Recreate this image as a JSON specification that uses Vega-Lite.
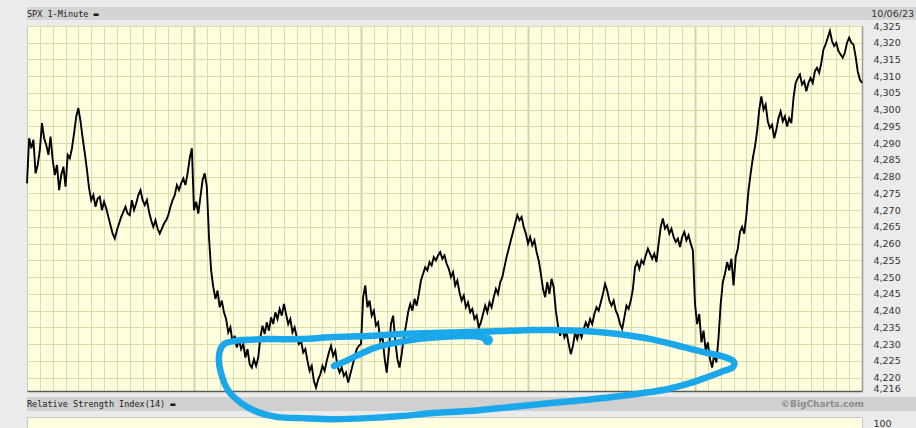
{
  "$schema": "https://vega.github.io/schema/vega-lite/v6.json",
  "background": "#ebebeb",
  "padding": {"left": 22, "top": 7, "right": 0, "bottom": 0},
  "bounds": "flush",
  "spacing": 6,
  "config": {"font": "DejaVu Sans", "view": {"stroke": null}},
  "datasets": {
    "spx": [
      {"t":0,"p":4278.0},{"t":5,"p":4291.5},{"t":10,"p":4288.5},{"t":15,"p":4291.0},{"t":20,"p":4281.0},{"t":25,"p":4283.5},{"t":30,"p":4288.0},{"t":35,"p":4296.0},{"t":40,"p":4291.5},{"t":45,"p":4289.5},{"t":50,"p":4286.5},{"t":55,"p":4292.0},{"t":60,"p":4285.0},{"t":65,"p":4280.5},{"t":70,"p":4283.5},{"t":75,"p":4276.0},{"t":80,"p":4280.5},{"t":85,"p":4283.0},{"t":90,"p":4277.0},{"t":95,"p":4286.5},{"t":100,"p":4285.5},{"t":105,"p":4288.5},{"t":110,"p":4293.0},{"t":115,"p":4298.0},{"t":120,"p":4300.5},{"t":125,"p":4296.5},{"t":130,"p":4291.5},{"t":135,"p":4287.0},{"t":140,"p":4282.0},{"t":145,"p":4276.5},{"t":150,"p":4273.0},{"t":155,"p":4274.5},{"t":160,"p":4271.0},{"t":165,"p":4273.5},{"t":170,"p":4274.0},{"t":175,"p":4270.0},{"t":180,"p":4272.5},{"t":185,"p":4270.5},{"t":190,"p":4268.0},{"t":195,"p":4265.5},{"t":200,"p":4263.0},{"t":205,"p":4261.5},{"t":210,"p":4264.0},{"t":215,"p":4266.0},{"t":220,"p":4268.0},{"t":225,"p":4269.5},{"t":230,"p":4271.0},{"t":235,"p":4269.0},{"t":240,"p":4268.5},{"t":245,"p":4273.0},{"t":250,"p":4270.0},{"t":255,"p":4272.0},{"t":260,"p":4274.5},{"t":265,"p":4276.0},{"t":270,"p":4273.0},{"t":275,"p":4271.5},{"t":280,"p":4273.0},{"t":285,"p":4269.5},{"t":290,"p":4267.0},{"t":295,"p":4265.0},{"t":300,"p":4267.0},{"t":305,"p":4264.5},{"t":310,"p":4263.0},{"t":315,"p":4264.5},{"t":320,"p":4266.0},{"t":325,"p":4267.0},{"t":330,"p":4268.5},{"t":335,"p":4271.0},{"t":340,"p":4273.0},{"t":345,"p":4274.5},{"t":350,"p":4277.5},{"t":355,"p":4276.0},{"t":360,"p":4278.0},{"t":365,"p":4279.5},{"t":370,"p":4277.5},{"t":375,"p":4281.0},{"t":380,"p":4285.5},{"t":385,"p":4288.5},
      {"t":390,"p":4270.0},{"t":395,"p":4272.5},{"t":400,"p":4269.0},{"t":405,"p":4274.0},{"t":410,"p":4279.0},{"t":415,"p":4281.0},{"t":420,"p":4277.0},{"t":425,"p":4262.0},{"t":430,"p":4252.0},{"t":435,"p":4247.0},{"t":440,"p":4243.5},{"t":445,"p":4246.0},{"t":450,"p":4241.0},{"t":455,"p":4243.0},{"t":460,"p":4239.5},{"t":465,"p":4237.5},{"t":470,"p":4233.5},{"t":475,"p":4235.0},{"t":480,"p":4230.5},{"t":485,"p":4232.5},{"t":490,"p":4229.0},{"t":495,"p":4231.5},{"t":500,"p":4228.5},{"t":505,"p":4230.0},{"t":510,"p":4226.0},{"t":515,"p":4228.5},{"t":520,"p":4224.0},{"t":525,"p":4223.0},{"t":530,"p":4225.5},{"t":535,"p":4223.5},{"t":540,"p":4226.0},{"t":545,"p":4232.0},{"t":550,"p":4235.5},{"t":555,"p":4233.0},{"t":560,"p":4236.5},{"t":565,"p":4234.0},{"t":570,"p":4238.0},{"t":575,"p":4236.0},{"t":580,"p":4239.5},{"t":585,"p":4237.5},{"t":590,"p":4240.5},{"t":595,"p":4238.5},{"t":600,"p":4242.0},{"t":605,"p":4239.0},{"t":610,"p":4236.0},{"t":615,"p":4237.5},{"t":620,"p":4233.5},{"t":625,"p":4235.0},{"t":630,"p":4232.0},{"t":635,"p":4230.0},{"t":640,"p":4231.0},{"t":645,"p":4227.5},{"t":650,"p":4228.5},{"t":655,"p":4225.0},{"t":660,"p":4222.0},{"t":665,"p":4223.5},{"t":670,"p":4219.0},{"t":675,"p":4217.0},{"t":680,"p":4219.5},{"t":685,"p":4221.0},{"t":690,"p":4223.5},{"t":695,"p":4222.0},{"t":700,"p":4225.0},{"t":705,"p":4227.5},{"t":710,"p":4229.5},{"t":715,"p":4226.5},{"t":720,"p":4228.0},{"t":725,"p":4223.5},{"t":730,"p":4221.5},{"t":735,"p":4223.0},{"t":740,"p":4220.5},{"t":745,"p":4221.5},{"t":750,"p":4218.5},{"t":755,"p":4221.0},{"t":760,"p":4223.5},{"t":765,"p":4226.0},{"t":770,"p":4228.5},{"t":775,"p":4229.5},
      {"t":780,"p":4230.0},{"t":785,"p":4244.0},{"t":790,"p":4247.5},{"t":795,"p":4241.0},{"t":800,"p":4243.0},{"t":805,"p":4238.5},{"t":810,"p":4240.0},{"t":815,"p":4235.5},{"t":820,"p":4236.5},{"t":825,"p":4231.0},{"t":830,"p":4232.5},{"t":835,"p":4226.0},{"t":840,"p":4221.5},{"t":845,"p":4228.0},{"t":850,"p":4236.0},{"t":855,"p":4238.5},{"t":860,"p":4231.0},{"t":865,"p":4225.5},{"t":870,"p":4223.0},{"t":875,"p":4227.0},{"t":880,"p":4232.0},{"t":885,"p":4235.5},{"t":890,"p":4239.5},{"t":895,"p":4242.0},{"t":900,"p":4240.0},{"t":905,"p":4243.5},{"t":910,"p":4241.5},{"t":915,"p":4245.0},{"t":920,"p":4249.0},{"t":925,"p":4251.0},{"t":930,"p":4253.0},{"t":935,"p":4252.0},{"t":940,"p":4254.5},{"t":945,"p":4253.5},{"t":950,"p":4256.0},{"t":955,"p":4255.0},{"t":960,"p":4256.5},{"t":965,"p":4257.5},{"t":970,"p":4255.5},{"t":975,"p":4256.5},{"t":980,"p":4254.0},{"t":985,"p":4252.5},{"t":990,"p":4250.0},{"t":995,"p":4251.5},{"t":1000,"p":4247.5},{"t":1005,"p":4249.0},{"t":1010,"p":4245.5},{"t":1015,"p":4243.0},{"t":1020,"p":4244.5},{"t":1025,"p":4241.0},{"t":1030,"p":4242.5},{"t":1035,"p":4239.5},{"t":1040,"p":4240.5},{"t":1045,"p":4237.5},{"t":1050,"p":4238.5},{"t":1055,"p":4235.0},{"t":1060,"p":4236.5},{"t":1065,"p":4239.0},{"t":1070,"p":4241.5},{"t":1075,"p":4239.5},{"t":1080,"p":4242.5},{"t":1085,"p":4241.0},{"t":1090,"p":4244.0},{"t":1095,"p":4246.5},{"t":1100,"p":4245.0},{"t":1105,"p":4248.5},{"t":1110,"p":4250.0},{"t":1115,"p":4253.0},{"t":1120,"p":4256.0},{"t":1125,"p":4258.5},{"t":1130,"p":4261.0},{"t":1135,"p":4263.5},{"t":1140,"p":4266.0},{"t":1145,"p":4268.5},{"t":1150,"p":4267.0},{"t":1155,"p":4268.0},{"t":1160,"p":4265.0},{"t":1165,"p":4263.0},
      {"t":1170,"p":4260.0},{"t":1175,"p":4262.0},{"t":1180,"p":4259.5},{"t":1185,"p":4261.0},{"t":1190,"p":4257.5},{"t":1195,"p":4255.0},{"t":1200,"p":4251.0},{"t":1205,"p":4246.5},{"t":1210,"p":4244.0},{"t":1215,"p":4248.5},{"t":1220,"p":4245.0},{"t":1225,"p":4249.5},{"t":1230,"p":4247.0},{"t":1235,"p":4240.0},{"t":1240,"p":4235.5},{"t":1245,"p":4232.5},{"t":1250,"p":4235.0},{"t":1255,"p":4232.0},{"t":1260,"p":4233.5},{"t":1265,"p":4230.0},{"t":1270,"p":4227.0},{"t":1275,"p":4229.5},{"t":1280,"p":4233.5},{"t":1285,"p":4231.5},{"t":1290,"p":4234.0},{"t":1295,"p":4232.0},{"t":1300,"p":4234.5},{"t":1305,"p":4236.5},{"t":1310,"p":4235.0},{"t":1315,"p":4237.5},{"t":1320,"p":4236.0},{"t":1325,"p":4239.0},{"t":1330,"p":4241.0},{"t":1335,"p":4240.0},{"t":1340,"p":4242.5},{"t":1345,"p":4245.0},{"t":1350,"p":4248.0},{"t":1355,"p":4246.0},{"t":1360,"p":4243.0},{"t":1365,"p":4241.5},{"t":1370,"p":4243.0},{"t":1375,"p":4240.0},{"t":1380,"p":4238.5},{"t":1385,"p":4236.0},{"t":1390,"p":4234.5},{"t":1395,"p":4238.0},{"t":1400,"p":4241.5},{"t":1405,"p":4240.5},{"t":1410,"p":4243.0},{"t":1415,"p":4246.5},{"t":1420,"p":4253.0},{"t":1425,"p":4254.5},{"t":1430,"p":4252.5},{"t":1435,"p":4255.0},{"t":1440,"p":4254.0},{"t":1445,"p":4256.5},{"t":1450,"p":4258.5},{"t":1455,"p":4257.0},{"t":1460,"p":4255.5},{"t":1465,"p":4257.0},{"t":1470,"p":4254.5},{"t":1475,"p":4260.0},{"t":1480,"p":4265.0},{"t":1485,"p":4267.5},{"t":1490,"p":4264.5},{"t":1495,"p":4265.5},{"t":1500,"p":4263.0},{"t":1505,"p":4264.5},{"t":1510,"p":4262.0},{"t":1515,"p":4260.5},{"t":1520,"p":4261.5},{"t":1525,"p":4259.0},{"t":1530,"p":4262.0},{"t":1535,"p":4263.5},{"t":1540,"p":4261.0},{"t":1545,"p":4262.5},{"t":1550,"p":4260.0},{"t":1555,"p":4258.0},
      {"t":1560,"p":4242.0},{"t":1565,"p":4236.0},{"t":1570,"p":4239.0},{"t":1575,"p":4230.5},{"t":1580,"p":4234.0},{"t":1585,"p":4228.0},{"t":1590,"p":4230.5},{"t":1595,"p":4225.5},{"t":1600,"p":4223.0},{"t":1605,"p":4227.0},{"t":1610,"p":4224.5},{"t":1615,"p":4232.0},{"t":1620,"p":4242.0},{"t":1625,"p":4248.5},{"t":1630,"p":4251.0},{"t":1635,"p":4254.5},{"t":1640,"p":4252.0},{"t":1645,"p":4255.5},{"t":1650,"p":4247.5},{"t":1655,"p":4256.0},{"t":1660,"p":4258.5},{"t":1665,"p":4263.5},{"t":1670,"p":4265.0},{"t":1675,"p":4263.0},{"t":1680,"p":4268.5},{"t":1685,"p":4276.0},{"t":1690,"p":4281.0},{"t":1695,"p":4285.5},{"t":1700,"p":4289.0},{"t":1705,"p":4293.5},{"t":1710,"p":4300.0},{"t":1715,"p":4304.0},{"t":1720,"p":4300.0},{"t":1725,"p":4301.5},{"t":1730,"p":4296.5},{"t":1735,"p":4294.5},{"t":1740,"p":4295.5},{"t":1745,"p":4291.5},{"t":1750,"p":4294.0},{"t":1755,"p":4297.5},{"t":1760,"p":4299.5},{"t":1765,"p":4296.5},{"t":1770,"p":4298.0},{"t":1775,"p":4295.0},{"t":1780,"p":4297.5},{"t":1785,"p":4296.0},{"t":1790,"p":4303.5},{"t":1795,"p":4308.0},{"t":1800,"p":4309.5},{"t":1805,"p":4310.5},{"t":1810,"p":4307.5},{"t":1815,"p":4308.5},{"t":1820,"p":4305.5},{"t":1825,"p":4308.0},{"t":1830,"p":4309.5},{"t":1835,"p":4308.0},{"t":1840,"p":4311.5},{"t":1845,"p":4312.5},{"t":1850,"p":4311.0},{"t":1855,"p":4314.0},{"t":1860,"p":4318.0},{"t":1865,"p":4319.5},{"t":1870,"p":4321.5},{"t":1875,"p":4323.5},{"t":1880,"p":4320.5},{"t":1885,"p":4319.0},{"t":1890,"p":4320.0},{"t":1895,"p":4317.5},{"t":1900,"p":4316.5},{"t":1905,"p":4315.5},{"t":1910,"p":4317.0},{"t":1915,"p":4320.0},{"t":1920,"p":4321.5},{"t":1925,"p":4320.0},{"t":1930,"p":4319.5},{"t":1935,"p":4316.0},{"t":1940,"p":4311.5},{"t":1945,"p":4309.0},{"t":1950,"p":4308.0}
    ],
    "loop": [
      {"seg":"a","i":0,"t":717,"p":4223.5},{"seg":"a","i":1,"t":740,"p":4224.7},{"seg":"a","i":2,"t":773,"p":4226.7},{"seg":"a","i":3,"t":810,"p":4228.8},{"seg":"a","i":4,"t":857,"p":4230.3},{"seg":"a","i":5,"t":913,"p":4231.5},{"seg":"a","i":6,"t":967,"p":4232.1},{"seg":"a","i":7,"t":1020,"p":4232.4},{"seg":"a","i":8,"t":1060,"p":4232.1},{"seg":"a","i":9,"t":1076,"p":4231.2},
      {"seg":"b","i":0,"t":483,"p":4230.9},{"seg":"b","i":1,"t":500,"p":4231.2},{"seg":"b","i":2,"t":563,"p":4231.5},{"seg":"b","i":3,"t":640,"p":4231.5},{"seg":"b","i":4,"t":717,"p":4232.1},{"seg":"b","i":5,"t":796,"p":4232.4},{"seg":"b","i":6,"t":873,"p":4233.0},{"seg":"b","i":7,"t":950,"p":4233.3},{"seg":"b","i":8,"t":1030,"p":4233.6},{"seg":"b","i":9,"t":1107,"p":4233.9},{"seg":"b","i":10,"t":1184,"p":4234.2},{"seg":"b","i":11,"t":1224,"p":4234.2},{"seg":"b","i":12,"t":1301,"p":4233.9},{"seg":"b","i":13,"t":1380,"p":4233.0},{"seg":"b","i":14,"t":1457,"p":4231.5},{"seg":"b","i":15,"t":1534,"p":4229.1},{"seg":"b","i":16,"t":1590,"p":4227.3},{"seg":"b","i":17,"t":1628,"p":4226.2},{"seg":"b","i":18,"t":1651,"p":4224.7},{"seg":"b","i":19,"t":1649,"p":4223.2},{"seg":"b","i":20,"t":1621,"p":4221.7},{"seg":"b","i":21,"t":1590,"p":4220.2},{"seg":"b","i":22,"t":1550,"p":4218.4},{"seg":"b","i":23,"t":1497,"p":4216.6},{"seg":"b","i":24,"t":1387,"p":4214.5},{"seg":"b","i":25,"t":1301,"p":4213.3},{"seg":"b","i":26,"t":1224,"p":4212.4},{"seg":"b","i":27,"t":1107,"p":4210.9},{"seg":"b","i":28,"t":1030,"p":4210.0},{"seg":"b","i":29,"t":950,"p":4209.4},{"seg":"b","i":30,"t":873,"p":4208.5},{"seg":"b","i":31,"t":796,"p":4207.9},{"seg":"b","i":32,"t":717,"p":4207.6},{"seg":"b","i":33,"t":640,"p":4207.9},{"seg":"b","i":34,"t":586,"p":4208.2},{"seg":"b","i":35,"t":539,"p":4209.7},{"seg":"b","i":36,"t":500,"p":4212.4},{"seg":"b","i":37,"t":469,"p":4216.3},{"seg":"b","i":38,"t":453,"p":4221.4},{"seg":"b","i":39,"t":448,"p":4225.3},{"seg":"b","i":40,"t":451,"p":4228.2},{"seg":"b","i":41,"t":460,"p":4230.0},{"seg":"b","i":42,"t":483,"p":4230.9}
    ],
    "blob": [{"t":1076,"p":4231.2}]
  },
  "vconcat": [
    {
      "width": 890, "height": 13,
      "view": {"fill": "#d4d4d4", "stroke": null},
      "layer": [
        {
          "data": {"values": [{"s": "l", "label": "SPX 1-Minute ▬"}]},
          "mark": {"type": "text", "align": "left", "baseline": "middle", "font": "DejaVu Sans Mono", "fontSize": 8.5, "color": "#1a1a1a"},
          "encoding": {
            "x": {"field": "s", "type": "nominal", "scale": {"type": "point", "domain": ["l", "r"], "range": [0, 887], "padding": 0}, "axis": null},
            "text": {"field": "label"}
          }
        },
        {
          "data": {"values": [{"s": "r", "label": "10/06/23"}]},
          "mark": {"type": "text", "align": "right", "baseline": "middle", "font": "DejaVu Sans", "fontSize": 9.5, "color": "#333333"},
          "encoding": {
            "x": {"field": "s", "type": "nominal", "scale": {"type": "point", "domain": ["l", "r"], "range": [0, 887], "padding": 0}, "axis": null},
            "text": {"field": "label"}
          }
        }
      ]
    },
    {
      "width": 835, "height": 365,
      "view": {"fill": "#ffffdf", "stroke": "#c8c8c8"},
      "data": {"name": "spx"},
      "mark": {"type": "line", "color": "#000000", "strokeWidth": 1.9, "strokeJoin": "miter"},
      "encoding": {
        "x": {
          "field": "t", "type": "quantitative",
          "scale": {"domain": [0, 1950], "nice": false, "zero": false},
          "axis": {
            "title": null, "labels": false, "ticks": false, "domain": true, "domainColor": "#5a5a5a", "domainWidth": 1.5,
            "values": [30,60,90,120,150,180,210,240,270,300,330,360,390,420,450,480,510,540,570,600,630,660,690,720,750,780,810,840,870,900,930,960,990,1020,1050,1080,1110,1140,1170,1200,1230,1260,1290,1320,1350,1380,1410,1440,1470,1500,1530,1560,1590,1620,1650,1680,1710,1740,1770,1800,1830,1860,1890,1920],
            "grid": true,
            "gridColor": {"condition": {"test": "datum.value % 390 === 0", "value": "#d6d2a2"}, "value": "#dedaab"},
            "gridWidth": {"condition": {"test": "datum.value % 390 === 0", "value": 2}, "value": 1}
          }
        },
        "y": {
          "field": "p", "type": "quantitative",
          "scale": {"domain": [4216, 4325], "nice": false, "zero": false},
          "axis": {
            "orient": "right", "title": null,
            "values": [4216,4220,4225,4230,4235,4240,4245,4250,4255,4260,4265,4270,4275,4280,4285,4290,4295,4300,4305,4310,4315,4320,4325],
            "format": ",",
            "ticks": false, "tickSize": 0, "labelPadding": 11,
            "labelFont": "DejaVu Sans", "labelFontSize": 9.5, "labelColor": "#333333",
            "labelOffset": {"condition": {"test": "datum.value === 4216", "value": -3}, "value": 0},
            "domain": true, "domainColor": "#9a9a9a", "domainWidth": 1.5,
            "grid": true, "gridColor": "#dedaab", "gridWidth": 1
          }
        }
      }
    },
    {
      "width": 890, "height": 14,
      "view": {"fill": "#d0d0d0", "stroke": null},
      "layer": [
        {
          "data": {"values": [{"s": "l", "label": "Relative Strength Index(14) ▬"}]},
          "mark": {"type": "text", "align": "left", "baseline": "middle", "font": "DejaVu Sans Mono", "fontSize": 8.5, "color": "#1a1a1a"},
          "encoding": {
            "x": {"field": "s", "type": "nominal", "scale": {"type": "point", "domain": ["l", "r"], "range": [0, 837], "padding": 0}, "axis": null},
            "text": {"field": "label"}
          }
        },
        {
          "data": {"values": [{"s": "r", "label": "©BigCharts.com"}]},
          "mark": {"type": "text", "align": "right", "baseline": "middle", "font": "DejaVu Sans", "fontSize": 9, "fontWeight": "bold", "color": "#8d8d8d"},
          "encoding": {
            "x": {"field": "s", "type": "nominal", "scale": {"type": "point", "domain": ["l", "r"], "range": [0, 837], "padding": 0}, "axis": null},
            "text": {"field": "label"}
          }
        }
      ]
    },
    {
      "width": 835, "height": 11,
      "view": {"fill": "#ffffdf", "stroke": "#c8c8c8"},
      "layer": [
        {
          "data": {"values": [{"rsi": 100}]},
          "mark": {"type": "rule", "strokeOpacity": 0},
          "encoding": {
            "y": {
              "field": "rsi", "type": "quantitative",
              "scale": {"domain": [0, 100], "nice": false, "zero": false},
              "axis": {"orient": "right", "title": null, "values": [100], "ticks": false, "tickSize": 0, "labelPadding": 11, "labelOffset": 6, "labelFont": "DejaVu Sans", "labelFontSize": 9.5, "labelColor": "#333333", "domain": false, "grid": false}
            }
          }
        },
        {
          "data": {"name": "loop"},
          "mark": {"type": "line", "color": "#1ba8ea", "strokeWidth": 6.5, "strokeCap": "round", "strokeJoin": "round", "interpolate": "catmull-rom", "clip": false},
          "encoding": {
            "x": {
              "field": "t", "type": "quantitative",
              "scale": {"domain": [0, 1950], "nice": false, "zero": false},
              "axis": {
                "title": null, "labels": false, "ticks": false, "domain": false,
                "values": [30,60,90,120,150,180,210,240,270,300,330,360,390,420,450,480,510,540,570,600,630,660,690,720,750,780,810,840,870,900,930,960,990,1020,1050,1080,1110,1140,1170,1200,1230,1260,1290,1320,1350,1380,1410,1440,1470,1500,1530,1560,1590,1620,1650,1680,1710,1740,1770,1800,1830,1860,1890,1920],
                "grid": true,
                "gridColor": {"condition": {"test": "datum.value % 390 === 0", "value": "#d6d2a2"}, "value": "#dedaab"},
                "gridWidth": {"condition": {"test": "datum.value % 390 === 0", "value": 2}, "value": 1}
              }
            },
            "y": {"field": "p", "type": "quantitative", "scale": {"domain": [4216, 4325], "range": [-26, -391], "nice": false, "zero": false}, "axis": null},
            "detail": {"field": "seg"},
            "order": {"field": "i", "type": "quantitative"}
          }
        },
        {
          "data": {"name": "blob"},
          "mark": {"type": "point", "filled": true, "size": 110, "color": "#1ba8ea", "opacity": 1, "clip": false},
          "encoding": {
            "x": {"field": "t", "type": "quantitative"},
            "y": {"field": "p", "type": "quantitative", "scale": {"domain": [4216, 4325], "range": [-26, -391], "nice": false, "zero": false}, "axis": null}
          }
        }
      ],
      "resolve": {"scale": {"y": "independent"}, "axis": {"y": "independent"}}
    }
  ]
}
